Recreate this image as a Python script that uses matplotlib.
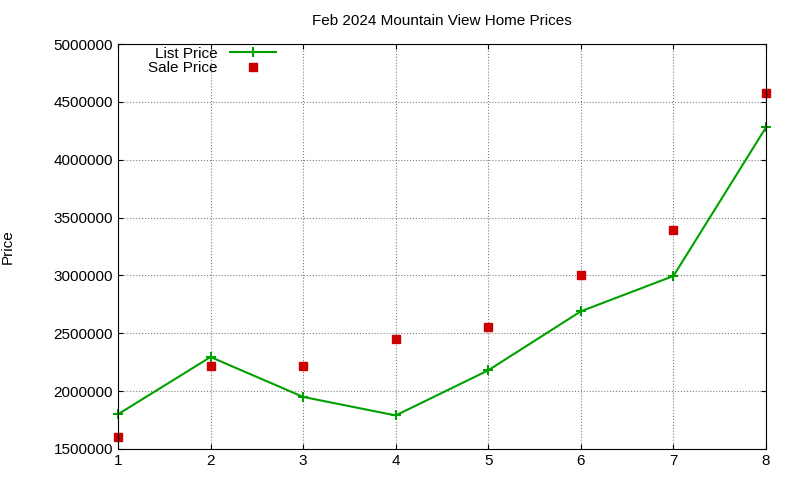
import matplotlib
matplotlib.use("Agg")
import matplotlib.pyplot as plt

plt.rcParams['font.family'] = ['Liberation Sans', 'DejaVu Sans']

x = [1, 2, 3, 4, 5, 6, 7, 8]
list_price = [1800000, 2295000, 1950000, 1790000, 2180000, 2690000, 2995000, 4280000]
sale_price = [1600000, 2220000, 2220000, 2450000, 2555000, 3000000, 3390000, 4580000]

fig = plt.figure(figsize=(8, 4.8), dpi=100)
ax = fig.add_axes([0.1475, 0.0646, 0.81, 0.8437])
ax.plot(x, list_price, color='#00a000', lw=1.5, marker='+', ms=7, mew=1.5, label='List Price', clip_on=False)
ax.plot(x, sale_price, ls='none', marker='s', color='#cc0000', ms=6, label='Sale Price', clip_on=False)
ax.set_xlim(1, 8)
ax.set_ylim(1500000, 5000000)
ax.set_yticks(range(1500000, 5000001, 500000))
ax.ticklabel_format(style='plain', axis='y')
ax.grid(True, ls=':', color='#808080', lw=0.8)
ax.tick_params(direction='in', top=True, right=True, labelsize=11)
ax.set_ylabel('Price', fontsize=11, labelpad=28)
ax.set_title('Feb 2024 Mountain View Home Prices', fontsize=11, pad=14)
ax.legend(loc='upper left', bbox_to_anchor=(0.03, 1.02), markerfirst=False, frameon=False,
          fontsize=11, handlelength=3.0, borderpad=0.2, labelspacing=0.05)
fig.savefig('out.png')
